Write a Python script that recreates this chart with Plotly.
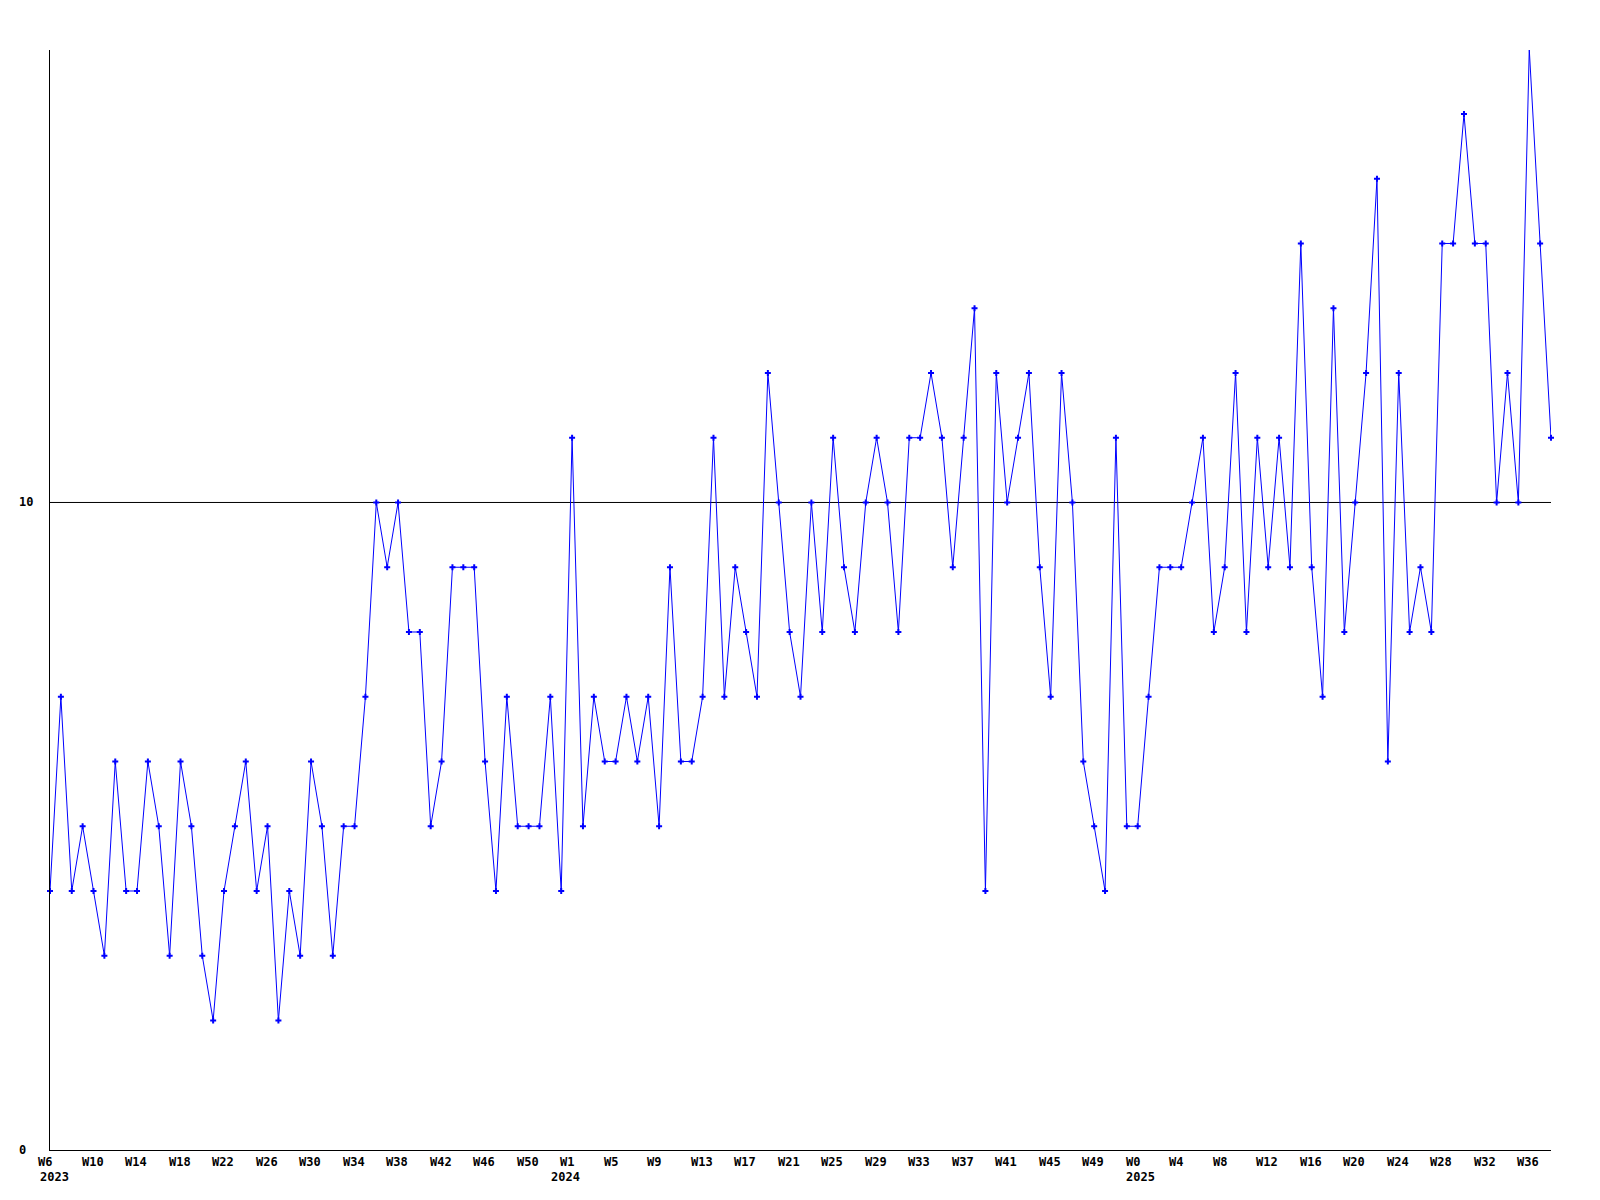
import plotly.graph_objects as go

# weekly counts, W6 2023 .. W38 2025 (one value per week)
values_2023 = [4, 7, 4, 5, 4, 3, 6, 4, 4, 6, 5, 3, 6, 5, 3, 2, 4, 5, 6, 4,
               5, 2, 4, 3, 6, 5, 3, 5, 5, 7, 10, 9, 10, 8, 8, 5, 6, 9, 9, 9,
               6, 4, 7, 5, 5, 5, 7, 4]
values_2024 = [11, 5, 7, 6, 6, 7, 6, 7, 5, 9, 6, 6, 7, 11, 7, 9, 8, 7, 12, 10,
               8, 7, 10, 8, 11, 9, 8, 10, 11, 10, 8, 11, 11, 12, 11, 9, 11, 13, 4, 12,
               10, 11, 12, 9, 7, 12, 10, 6, 5, 4, 11, 5]
values_2025 = [5, 7, 9, 9, 9, 10, 11, 8, 9, 12, 8, 11, 9, 11, 9, 14, 9, 7, 13, 8,
               10, 12, 15, 6, 12, 8, 9, 8, 14, 14, 16, 14, 14, 10, 12, 10, 17, 14, 11]

values = values_2023 + values_2024 + values_2025
weeks = list(range(len(values)))

# tick labels every 4 weeks
tick_pos = list(range(0, len(values), 4))
tick_text = (["W%d" % w for w in range(6, 51, 4)]
             + ["W%d" % w for w in range(1, 50, 4)]
             + ["W%d" % w for w in range(0, 37, 4)])
year_pos = [0, 48, 100]
year_text = ["2023", "2024", "2025"]
year_shift = [-10, -21, -12]

y_ticks = [0, 10]
ref_level = 10

font = dict(family="DejaVu Sans Mono", size=12, color="black")

fig = go.Figure()
fig.add_trace(go.Scatter(x=weeks, y=values, mode="lines+markers",
                         line=dict(color="#0000ff", width=1),
                         marker=dict(symbol="cross", size=5, color="#0000ff"),
                         cliponaxis=False, hoverinfo="x+y", showlegend=False))

fig.add_hline(y=ref_level, line_color="black", line_width=1, layer="below")

annotations = []
for pos, txt in zip(tick_pos, tick_text):
    annotations.append(dict(x=pos, y=0, xref="x", yref="y", text="<b>%s</b>" % txt,
                            showarrow=False, xanchor="left", yanchor="top",
                            xshift=-14, yshift=-3, font=font))
for pos, txt, sh in zip(year_pos, year_text, year_shift):
    annotations.append(dict(x=pos, y=0, xref="x", yref="y", text="<b>%s</b>" % txt,
                            showarrow=False, xanchor="left", yanchor="top",
                            xshift=sh - 2, yshift=-18, font=font))
for yv in y_ticks:
    annotations.append(dict(x=0, y=yv, xref="paper", yref="y", text="<b>%d</b>" % yv,
                            showarrow=False, xanchor="left", yanchor="middle",
                            xshift=-33, font=font))

fig.update_layout(width=1584, height=1184, plot_bgcolor="white", paper_bgcolor="white",
                  margin=dict(l=42, r=41, t=42, b=42), annotations=annotations)
fig.update_xaxes(range=[0, len(values) - 1], showgrid=False, zeroline=False,
                 showticklabels=False, ticks="", showline=True, linecolor="black",
                 linewidth=1)
fig.update_yaxes(range=[0, 16.988], showgrid=False, zeroline=False, showticklabels=False,
                 ticks="", showline=True, linecolor="black", linewidth=1)

fig.write_html("out.html")
